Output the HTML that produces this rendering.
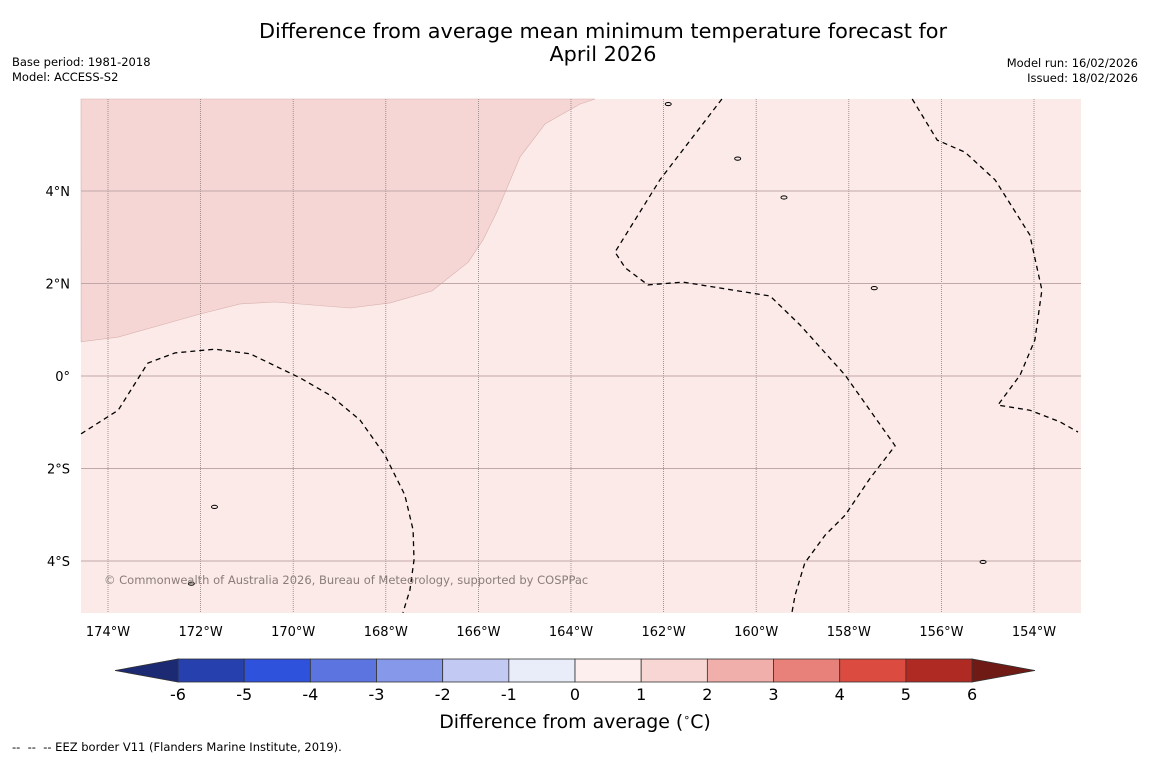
<!DOCTYPE html>
<html><head><meta charset="utf-8"><style>
body{margin:0;background:#fff;}
svg text{font-family:"DejaVu Sans","Liberation Sans",sans-serif;}
</style></head><body>
<svg width="1150" height="758" viewBox="0 0 1150 758" id="s">
<text x="603" y="38" font-size="20.8" text-anchor="middle">Difference from average mean minimum temperature forecast for</text>
<text x="603" y="61" font-size="20.8" text-anchor="middle">April 2026</text>
<text x="12" y="66" font-size="11.5">Base period: 1981-2018</text>
<text x="12" y="81" font-size="11.5">Model: ACCESS-S2</text>
<text x="1138" y="67" font-size="11.5" text-anchor="end">Model run: 16/02/2026</text>
<text x="1138" y="82" font-size="11.5" text-anchor="end">Issued: 18/02/2026</text>
<g id="map"></g>
<g id="cb"></g>
<text x="575" y="728" font-size="18.9" text-anchor="middle">Difference from average (<tspan font-size="11" dy="-7">∘</tspan><tspan dy="7">C)</tspan></text>
<text x="12" y="751" font-size="11.5" xml:space="preserve">--  --  -- EEZ border V11 (Flanders Marine Institute, 2019).</text>
</svg>
<script>
const lonTicks=[-174,-172,-170,-168,-166,-164,-162,-160,-158,-156,-154];
const latTicks=[4,2,0,-2,-4];
const warmBoundary=[[-174.58,0.74],[-173.78,0.84],[-172.01,1.34],[-171.15,1.56],[-170.39,1.60],[-168.77,1.47],[-167.91,1.58],[-167.0,1.84],[-166.22,2.46],[-165.90,2.94],[-165.60,3.55],[-165.10,4.74],[-164.56,5.45],[-163.81,5.88],[-163.48,5.99]];
const eezA=[[-174.58,-1.25],[-173.78,-0.74],[-173.14,0.28],[-172.55,0.50],[-171.69,0.58],[-170.93,0.48],[-169.85,-0.04],[-169.21,-0.41],[-168.56,-0.95],[-168.02,-1.71],[-167.59,-2.57],[-167.41,-3.33],[-167.39,-3.98],[-167.48,-4.63],[-167.63,-5.12]];
const eezB=[[-160.74,5.99],[-162.08,4.24],[-163.05,2.68],[-162.83,2.34],[-162.34,1.97],[-161.58,2.03],[-159.70,1.73],[-159.05,1.10],[-158.08,0.02],[-157.00,-1.51],[-157.54,-2.21],[-158.08,-3.01],[-158.51,-3.44],[-158.95,-4.04],[-159.16,-4.74],[-159.23,-5.12]];
const eezC=[[-156.63,5.99],[-156.09,5.10],[-155.49,4.84],[-154.84,4.24],[-154.09,3.05],[-153.83,1.86],[-153.98,0.78],[-154.30,0.02],[-154.78,-0.63],[-154.09,-0.74],[-153.44,-0.99],[-153.05,-1.21]];
const islands=[[-159.4,3.86],[-157.45,1.9],[-171.7,-2.83],[-172.2,-4.49],[-155.1,-4.02],[-160.4,4.7],[-161.9,5.88]];
const cbLevels=[-6,-5,-4,-3,-2,-1,0,1,2,3,4,5,6];
const cbColors=["#2640ae","#2f52dc","#5b74e0","#8698e9","#c2caf4","#e9edfa","#fdefed","#f8d6d3","#f0afaa","#e8817a","#dc4b40","#ae2a22"];
const cbExtendColors=["#1c2a73","#701a15"];

const X0=81,X1=1081,Y0=99,Y1=613;
const px=lon=>108+(lon+174)*46.3, py=lat=>376-lat*46.25;
const NS="http://www.w3.org/2000/svg";
function mk(t,a,p){const e=document.createElementNS(NS,t);for(const k in a)e.setAttribute(k,a[k]);p.appendChild(e);return e;}
const map=document.getElementById('map');
const bg=mk('rect',{x:X0,y:Y0,width:X1-X0,height:Y1-Y0,fill:"#fbeae8"},map);


let d="M"+X0+","+Y0+" "+warmBoundary.map(p=>px(p[0]).toFixed(1)+","+py(p[1]).toFixed(1)).join(" ")+" Z";
const warm=mk('path',{d:d,fill:"#f5d6d4",stroke:"#d8b0ae","stroke-width":0.6},map);


lonTicks.forEach(l=>{const x=px(l);
 const g=mk('line',{x1:x,x2:x,y1:Y0,y2:Y1,stroke:"#8a8080","stroke-width":0.8,"stroke-dasharray":"1,1"},map);
 
 
 const t=mk('text',{x:x,y:636,"font-size":13,"text-anchor":"middle"},map);t.textContent=Math.abs(l)+"°W";
 
 });
latTicks.forEach(l=>{const y=py(l);
 const g=mk('line',{x1:X0,x2:X1,y1:y,y2:y,stroke:"#c0a8a8","stroke-width":0.9},map);
 
 
 const t=mk('text',{x:70,y:y+5,"font-size":13,"text-anchor":"end"},map);t.textContent=l==0?"0°":Math.abs(l)+"°"+(l>0?"N":"S");
 
 });
[eezA,eezB,eezC].forEach(a=>{
 const p=mk('polyline',{points:a.map(q=>px(q[0]).toFixed(1)+","+py(q[1]).toFixed(1)).join(" "),fill:"none",stroke:"#000","stroke-width":1.3,"stroke-dasharray":"5,4"},map);
 
 });
islands.forEach(q=>{const e=mk('ellipse',{cx:px(q[0]),cy:py(q[1]),rx:3,ry:1.6,fill:"none",stroke:"#000","stroke-width":1},map);
 
 });
const cr=mk('text',{x:104,y:584,"font-size":11.5,fill:"#8a7c7a"},map);cr.textContent="© Commonwealth of Australia 2026, Bureau of Meteorology, supported by COSPPac";


const cb=document.getElementById('cb');
const cx=v=>178+(v+6)*66.17;const CY0=659,CY1=682;
const lt=mk('polygon',{points:`115,670.5 ${cx(-6)},${CY0} ${cx(-6)},${CY1}`,fill:cbExtendColors[0],stroke:"#333","stroke-width":0.8},cb);


const rt=mk('polygon',{points:`1035,670.5 ${cx(6)},${CY0} ${cx(6)},${CY1}`,fill:cbExtendColors[1],stroke:"#333","stroke-width":0.8},cb);


cbColors.forEach((c,i)=>{const r=mk('rect',{x:cx(cbLevels[i]),y:CY0,width:cx(cbLevels[i+1])-cx(cbLevels[i]),height:CY1-CY0,fill:c,stroke:"#333","stroke-width":0.8},cb);
 
 });
cbLevels.forEach(v=>{const t=mk('text',{x:cx(v),y:700,"font-size":16,"text-anchor":"middle"},cb);t.textContent=v;
 
 });
</script>
</body></html>
